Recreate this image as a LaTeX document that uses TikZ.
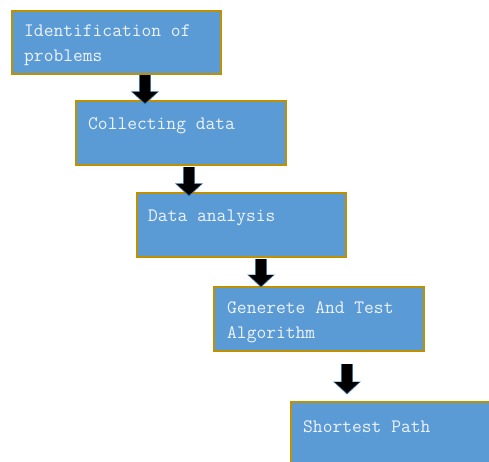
\documentclass[tikz,border=0pt]{standalone}
\usetikzlibrary{arrows.meta,calc}
\definecolor{boxfill}{HTML}{5B9BD5}
\definecolor{boxline}{HTML}{BF9000}
\definecolor{boxtext}{HTML}{EEF3FA}
\definecolor{arrline}{HTML}{41719C}
\tikzset{
  stagebox/.style={draw=boxline, line width=2pt, fill=boxfill, rectangle, anchor=north west, inner sep=0pt},
  lbl/.style={text=boxtext, font=\ttfamily\fontsize{19pt}{25pt}\selectfont, align=left, inner sep=0pt, anchor=base west},
  flow/.style={preaction={draw=arrline, line width=12pt, -{Triangle[width=27pt,length=13pt]}, shorten >=-1.5pt},
               draw=black, line width=10pt, -{Triangle[width=24pt,length=11pt]}}
}
\begin{document}
\begin{tikzpicture}[x=1pt,y=-1pt]
\useasboundingbox (0,0) rectangle (489,462);
\clip (0,0) rectangle (489,462);
\node[stagebox, minimum width=209pt, minimum height=63pt] (b1) at (11,10) {};
\node[stagebox, minimum width=210pt, minimum height=64pt] (b2) at (75,100) {};
\node[stagebox, minimum width=209pt, minimum height=64pt] (b3) at (136,192) {};
\node[stagebox, minimum width=210pt, minimum height=64pt] (b4) at (213,286) {};
\node[stagebox, minimum width=210pt, minimum height=70pt] (b5) at (290,401) {};
\node[lbl] (t1) at ($(b1.north west)+(13,52)$) {Identification of\\problems};
\node[lbl] (t2) at ($(b2.north west)+(13,30)$) {Collecting data};
\node[lbl] (t3) at ($(b3.north west)+(12,30)$) {Data analysis};
\node[lbl] (t4) at ($(b4.north west)+(14,52)$) {Generete And Test\\Algorithm};
\node[lbl] (t5) at ($(b5.north west)+(13,31)$) {Shortest Path};
\draw[flow] ($(b1.south west)+(134,0)$) -- ($(b2.north west)+(70,3)$);
\draw[flow] ($(b2.south west)+(114,1)$) -- ($(b3.north west)+(53,3)$);
\draw[flow] ($(b3.south west)+(125,1)$) -- ($(b4.north west)+(48,0)$);
\draw[flow] ($(b4.south west)+(134,12)$) -- ($(b5.north west)+(57,-8)$);
\end{tikzpicture}
\end{document}
